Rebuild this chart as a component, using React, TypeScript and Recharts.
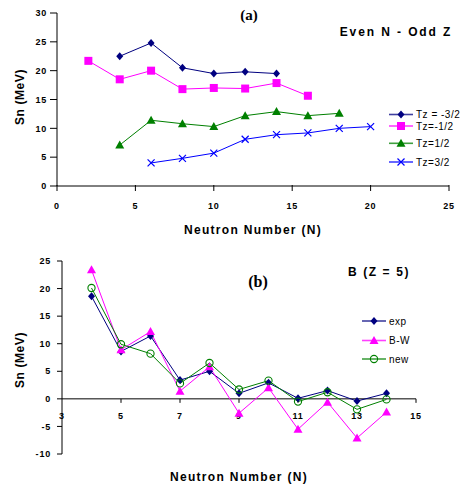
import { Line, LineChart, ReferenceDot, ReferenceLine, XAxis, YAxis } from 'recharts'

const FONT = "'Liberation Sans', Arial, sans-serif"
const SERIF = "'Liberation Serif', 'Times New Roman', serif"

// (a) Even N - Odd Z
const nTzM32 = [4, 6, 8, 10, 12, 14]
const snTzM32 = [22.5, 24.8, 20.5, 19.5, 19.8, 19.5]
const nTzM12 = [2, 4, 6, 8, 10, 12, 14, 16]
const snTzM12 = [21.7, 18.5, 20.0, 16.8, 17.0, 16.9, 17.85, 15.65]
const nTzP12 = [4, 6, 8, 10, 12, 14, 16, 18]
const snTzP12 = [7.1, 11.4, 10.8, 10.3, 12.2, 12.9, 12.2, 12.6]
const nTzP32 = [6, 8, 10, 12, 14, 16, 18, 20]
const snTzP32 = [4.0, 4.8, 5.7, 8.1, 8.9, 9.2, 10.0, 10.3]
const topXTicks = [0, 5, 10, 15, 20, 25]
const topYTicks = [0, 5, 10, 15, 20, 25, 30]

// (b) B (Z = 5)
const nBoron = [4, 5, 6, 7, 8, 9, 10, 11, 12, 13, 14]
const snExp = [18.6, 8.6, 11.4, 3.4, 5.0, 1.0, 2.9, 0.1, 1.5, -0.4, 1.0]
const snBW = [23.4, 8.9, 12.2, 1.4, 5.8, -2.6, 2.0, -5.5, -0.6, -7.1, -2.4]
const snNew = [20.1, 9.9, 8.2, 2.8, 6.5, 1.7, 3.3, -0.5, 1.2, -1.9, -0.1]
const botXTicks = [3, 5, 7, 9, 11, 13, 15]
const botYTicks = [-10, -5, 0, 5, 10, 15, 20, 25]

const toData = (ns: number[], vs: number[]) => ns.map((n, i) => ({ n, sn: vs[i] }))

const NAVY = '#000080'
const MAGENTA = '#ff00ff'
const GREEN = '#008000'
const BLUE = '#0000ff'

type Shape = 'diamond' | 'square' | 'triangle' | 'cross' | 'circle'

function Marker({ shape, cx, cy, color }: { shape: Shape; cx: number; cy: number; color: string }) {
  if (shape === 'diamond')
    return <path d={`M${cx},${cy - 4}L${cx + 3.5},${cy}L${cx},${cy + 4}L${cx - 3.5},${cy}Z`} fill={color} />
  if (shape === 'square') return <rect x={cx - 4} y={cy - 4} width={8} height={8} fill={color} />
  if (shape === 'triangle')
    return <path d={`M${cx},${cy - 4.5}L${cx + 4.5},${cy + 3.5}L${cx - 4.5},${cy + 3.5}Z`} fill={color} />
  if (shape === 'cross')
    return (
      <path
        d={`M${cx - 3.5},${cy - 3.5}L${cx + 3.5},${cy + 3.5}M${cx - 3.5},${cy + 3.5}L${cx + 3.5},${cy - 3.5}`}
        stroke={color}
        strokeWidth={1.2}
        fill="none"
      />
    )
  return <circle cx={cx} cy={cy} r={3.6} stroke={color} strokeWidth={1.1} fill="none" />
}

const dotOf = (shape: Shape, color: string) => (p: any) => (
  <Marker key={`${shape}-${p.index}`} shape={shape} cx={p.cx} cy={p.cy} color={color} />
)

const tickStyle = { fill: '#000', fontSize: 9, fontWeight: 'bold', fontFamily: FONT, letterSpacing: 0.8 }

function TopXTick(p: any) {
  return (
    <g>
      <line x1={p.x} x2={p.x} y1={p.y - 3} y2={p.y + 3} stroke="#000" />
      <text x={p.x} y={p.y + 21} textAnchor="middle" {...tickStyle}>
        {p.payload.value}
      </text>
    </g>
  )
}

const xTitle = (yOff: number) => (props: any) => {
  const vb = props.viewBox
  return (
    <text
      x={vb.x + vb.width / 2}
      y={vb.y + yOff}
      textAnchor="middle"
      fontFamily={FONT}
      fontWeight="bold"
      fontSize={12}
      letterSpacing={1.3}
      fill="#000"
    >
      Neutron Number (N)
    </text>
  )
}

const yTitle = (cx: number, dy: number) => (props: any) => {
  const vb = props.viewBox
  const cy = vb.y + vb.height / 2 + dy
  return (
    <text
      x={cx + 4.3}
      y={cy}
      transform={`rotate(-90 ${cx + 4.3} ${cy})`}
      textAnchor="middle"
      fontFamily={FONT}
      fontWeight="bold"
      fontSize={12}
      letterSpacing={0.6}
      fill="#000"
    >
      Sn (MeV)
    </text>
  )
}

type LegendRow = { label: string; color: string; shape: Shape; y: number }

function LegendBox({ rows, lineX, width }: { rows: LegendRow[]; lineX: number; width: number }) {
  return (
    <svg width={width} height={80} style={{ position: 'absolute', left: lineX, top: 0, overflow: 'visible' }}>
      {rows.map((r) => (
        <g key={r.label}>
          <line x1={0} x2={24} y1={r.y} y2={r.y} stroke={r.color} strokeWidth={1.6} strokeOpacity={0.75} />
          <Marker shape={r.shape} cx={12} cy={r.y} color={r.color} />
          <text x={27} y={r.y + 3.6} fontFamily={FONT} fontSize={10} letterSpacing={0.5} fill="#000">
            {r.label}
          </text>
        </g>
      ))}
    </svg>
  )
}

const topLegend: LegendRow[] = [
  { label: 'Tz = -3/2', color: NAVY, shape: 'diamond', y: 114.5 },
  { label: 'Tz=-1/2', color: MAGENTA, shape: 'square', y: 126 },
  { label: 'Tz=1/2', color: GREEN, shape: 'triangle', y: 143.3 },
  { label: 'Tz=3/2', color: BLUE, shape: 'cross', y: 162 },
]

const botLegend: LegendRow[] = [
  { label: 'exp', color: NAVY, shape: 'diamond', y: 321 },
  { label: 'B-W', color: MAGENTA, shape: 'triangle', y: 340.5 },
  { label: 'new', color: GREEN, shape: 'circle', y: 359 },
]

const centered = (x: number, y: number) => ({
  position: 'absolute' as const,
  left: x,
  top: y,
  transform: 'translate(-50%, -50%)',
  whiteSpace: 'nowrap' as const,
  lineHeight: 1,
})

export default function App() {
  return (
    <div style={{ position: 'absolute', left: 0, top: 0, width: 461, height: 484, background: '#fff' }}>
      <div style={{ position: 'absolute', left: 0, top: 0 }}>
        <LineChart width={461} height={240} margin={{ top: 13, right: 12, bottom: 0, left: 0 }}>
          <XAxis
            type="number"
            dataKey="n"
            domain={[0, 25]}
            ticks={topXTicks}
            height={54}
            stroke="#000"
            tickLine={false}
            tickSize={0}
            tick={<TopXTick />}
            label={xTitle(47.5)}
          />
          <YAxis
            type="number"
            domain={[0, 30]}
            ticks={topYTicks}
            width={57}
            stroke="#000"
            tickSize={7}
            tickMargin={3}
            tick={tickStyle}
            label={yTitle(20, -2.5)}
          />
          <Line data={toData(nTzM32, snTzM32)} dataKey="sn" stroke={NAVY} strokeWidth={1} dot={dotOf('diamond', NAVY)} isAnimationActive={false} />
          <Line data={toData(nTzM12, snTzM12)} dataKey="sn" stroke={MAGENTA} strokeWidth={1} dot={dotOf('square', MAGENTA)} isAnimationActive={false} />
          <Line data={toData(nTzP12, snTzP12)} dataKey="sn" stroke={GREEN} strokeWidth={1} dot={dotOf('triangle', GREEN)} isAnimationActive={false} />
          <Line data={toData(nTzP32, snTzP32)} dataKey="sn" stroke={BLUE} strokeWidth={1} dot={dotOf('cross', BLUE)} isAnimationActive={false} />
        </LineChart>
      </div>

      <div style={{ position: 'absolute', left: 0, top: 240 }}>
        <LineChart width={461} height={244} margin={{ top: 21, right: 45, bottom: 0, left: 0 }}>
          <XAxis
            type="number"
            dataKey="n"
            domain={[3, 15]}
            ticks={botXTicks}
            height={30}
            axisLine={false}
            tickLine={false}
            tick={false}
            label={xTitle(26.5)}
          />
          <YAxis
            type="number"
            domain={[-10, 25]}
            ticks={botYTicks}
            width={62}
            stroke="#000"
            tickSize={5}
            tickMargin={6}
            tick={tickStyle}
            label={yTitle(20, 2.5)}
          />
          <ReferenceLine y={0} stroke="#000" strokeWidth={1} />
          {botXTicks.map((t) => (
            <ReferenceDot
              key={t}
              x={t}
              y={0}
              ifOverflow="visible"
              shape={(p: any) => (
                <g>
                  {t !== 3 && <line x1={p.cx} x2={p.cx} y1={p.cy} y2={p.cy + 4} stroke="#000" />}
                  <text x={p.cx} y={p.cy + 20.5} textAnchor="middle" {...tickStyle}>
                    {t}
                  </text>
                </g>
              )}
            />
          ))}
          <Line data={toData(nBoron, snExp)} dataKey="sn" stroke={NAVY} strokeWidth={1} dot={dotOf('diamond', NAVY)} isAnimationActive={false} />
          <Line data={toData(nBoron, snBW)} dataKey="sn" stroke={MAGENTA} strokeWidth={1} dot={dotOf('triangle', MAGENTA)} isAnimationActive={false} />
          <Line data={toData(nBoron, snNew)} dataKey="sn" stroke={GREEN} strokeWidth={1} dot={dotOf('circle', GREEN)} isAnimationActive={false} />
        </LineChart>
      </div>

      <LegendBox rows={topLegend} lineX={389} width={72} />
      <LegendBox rows={botLegend} lineX={362} width={60} />

      <div style={{ ...centered(249, 15), fontFamily: SERIF, fontWeight: 'bold', fontSize: 15 }}>(a)</div>
      <div style={{ ...centered(396, 32), fontFamily: FONT, fontWeight: 'bold', fontSize: 12, letterSpacing: 1.9 }}>
        Even N - Odd Z
      </div>
      <div style={{ ...centered(258, 282), fontFamily: SERIF, fontWeight: 'bold', fontSize: 16 }}>(b)</div>
      <div style={{ ...centered(379, 272), fontFamily: FONT, fontWeight: 'bold', fontSize: 12, letterSpacing: 1.6 }}>
        B (Z = 5)
      </div>
    </div>
  )
}
